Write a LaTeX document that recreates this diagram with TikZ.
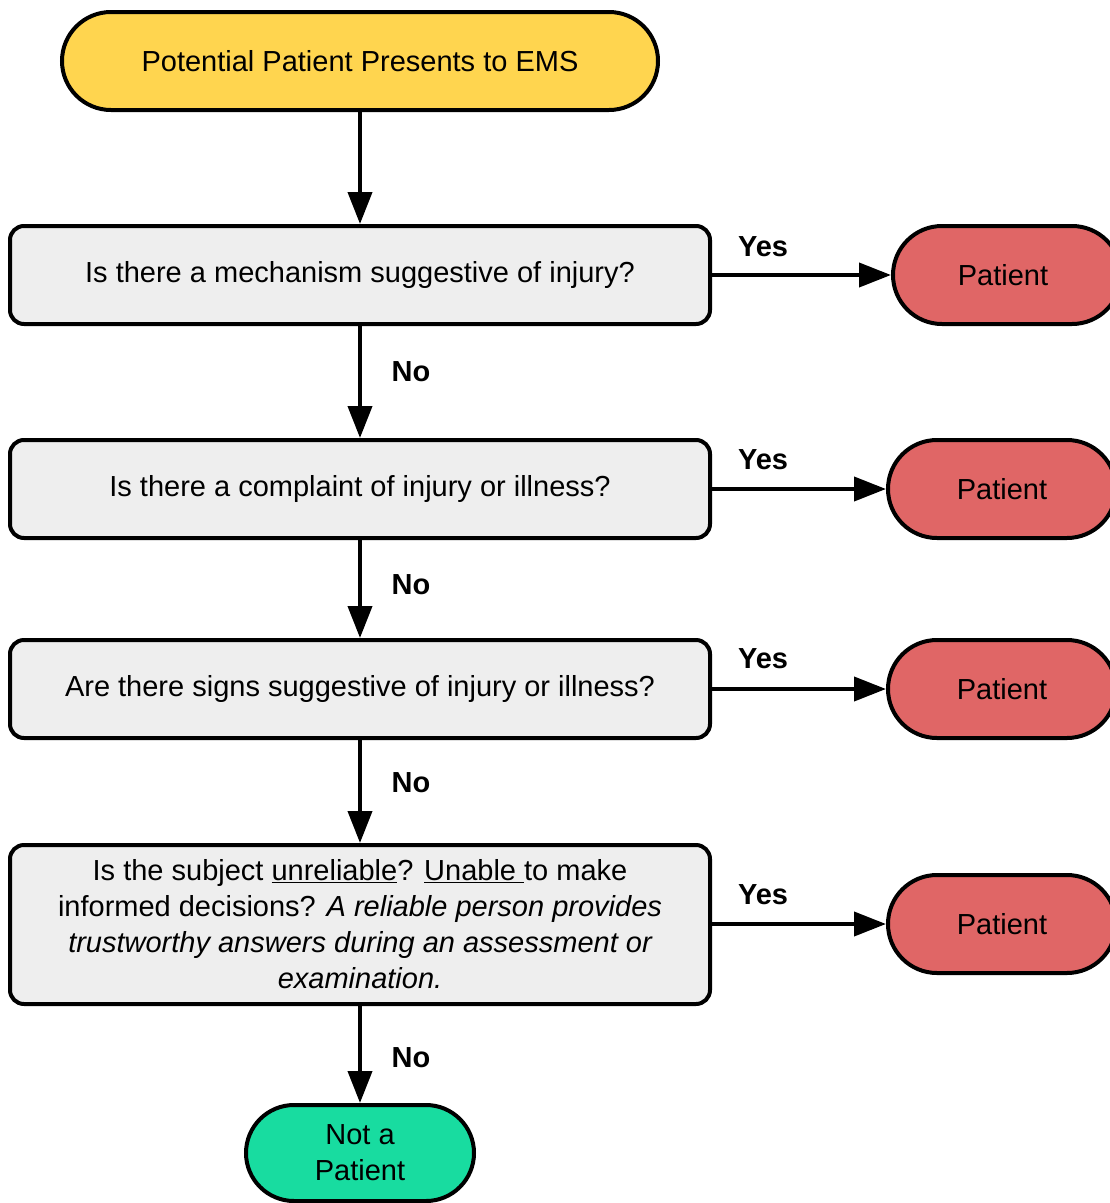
\documentclass[tikz,border=0pt]{standalone}
\usepackage{fontspec}
\setmainfont{Liberation Sans}
\usetikzlibrary{arrows.meta}
\definecolor{startyellow}{HTML}{FFD54F}
\definecolor{qgrey}{HTML}{EEEEEE}
\definecolor{patred}{HTML}{E06666}
\definecolor{notgreen}{HTML}{18DCA0}
\begin{document}
\begin{tikzpicture}[x=1pt,y=-1pt,
  every node/.style={font=\fontsize{29}{36}\selectfont, inner sep=0pt, align=center},
  base/.style={draw=black, line width=4pt},
  startbox/.style={base, fill=startyellow, minimum width=596pt, minimum height=98pt, rounded corners=49pt},
  question/.style={base, fill=qgrey, minimum width=700pt, rounded corners=14pt},
  patientbox/.style={base, fill=patred, minimum width=228pt, minimum height=98pt, rounded corners=49pt},
  endbox/.style={base, fill=notgreen, minimum width=228pt, minimum height=96pt, rounded corners=48pt},
  flow/.style={line width=4pt, -{Triangle[length=32pt,width=24pt]}},
  answer/.style={font=\fontsize{29}{30}\selectfont\bfseries}
]
\useasboundingbox (0,0) rectangle (1110,1203);

\node[startbox] (start) at (360,61) {Potential Patient Presents to EMS};

\node[question, minimum height=98pt] (q1) at (360,275) {Is there a mechanism suggestive of injury?};
\node[question, minimum height=98pt] (q2) at (360,489) {Is there a complaint of injury or illness?};
\node[question, minimum height=98pt] (q3) at (360,689) {Are there signs suggestive of injury or illness?};
\node[question, minimum height=159pt] (q4) at (360,924.5)
  {Is the subject \underline{unreliable}? \underline{Unable\ }to make\\
   informed decisions? \itshape A reliable person provides\\
   \itshape trustworthy answers during an assessment or\\
   \itshape examination.};

\node[patientbox] (p1) at (1007,275) {\hspace*{-8pt}Patient};
\node[patientbox] (p2) at (1002,489) {Patient};
\node[patientbox] (p3) at (1002,689) {Patient};
\node[patientbox] (p4) at (1002,924) {Patient};

\node[endbox] (np) at (360,1153) {Not a\\Patient};

% main chain
\draw[flow] (start) -- (q1);
\draw[flow] (q1) -- (q2);
\draw[flow] (q2) -- (q3);
\draw[flow] (q3) -- (q4);
\draw[flow] (q4) -- (np);

% branches to patient
\draw[flow] (q1.east) -- (p1.west);
\draw[flow] (q2.east) -- (p2.west);
\draw[flow] (q3.east) -- (p3.west);
\draw[flow] (q4.east |- p4.west) -- (p4.west);

% answer labels
\node[answer] (y1) at (763,247) {Yes};
\node[answer] (y2) at (763,460) {Yes};
\node[answer] (y3) at (763,659) {Yes};
\node[answer] (y4) at (763,895) {Yes};
\node[answer] (n1) at (411,372) {No};
\node[answer] (n2) at (411,585) {No};
\node[answer] (n3) at (411,783) {No};
\node[answer] (n4) at (411,1058) {No};
\end{tikzpicture}
\end{document}
